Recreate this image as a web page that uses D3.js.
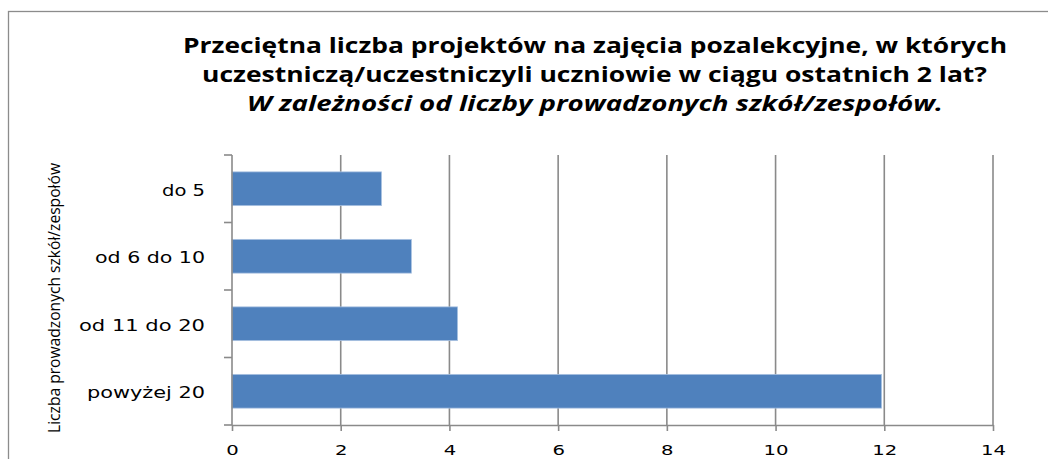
<!DOCTYPE html>
<html>
<head>
<meta charset="utf-8">
<script src="https://cdn.jsdelivr.net/npm/d3@7"></script>
<style>
  html, body { margin: 0; padding: 0; background: #fff; }
  svg { display: block; }
</style>
</head>
<body>
<svg id="chart" width="1048" height="459"></svg>
<script>
// ---- data ----
const categories = ["do 5", "od 6 do 10", "od 11 do 20", "powyżej 20"];
const values = [2.75, 3.3, 4.15, 11.95];
const xTicks = [0, 2, 4, 6, 8, 10, 12, 14];
const titleLines = [
  "Przeciętna liczba projektów na zajęcia pozalekcyjne, w których",
  "uczestniczą/uczestniczyli uczniowie w ciągu ostatnich 2 lat?",
  "W zależności od liczby prowadzonych szkół/zespołów."
];
const yAxisTitle = "Liczba prowadzonych szkół/zespołów";

// ---- layout ----
const svg = d3.select("#chart");
const plot = { left: 232, right: 993, top: 155, bottom: 425 };
const gridColor = "#8a8a8a";

// outer chart border
svg.append("rect")
  .attr("x", 8.5).attr("y", 11.5)
  .attr("width", 1100).attr("height", 500)
  .attr("fill", "none").attr("stroke", "#8c8c8c").attr("stroke-width", 1.3);

const x = d3.scaleLinear().domain([0, 14]).range([plot.left, plot.right]);
const y = d3.scaleBand().domain(categories).range([plot.top, plot.bottom])
  .paddingInner(0.5).paddingOuter(0.25);

// gridlines
svg.append("g").selectAll("line").data(xTicks.filter(d => d > 0)).join("line")
  .attr("x1", d => x(d)).attr("x2", d => x(d))
  .attr("y1", plot.top).attr("y2", plot.bottom)
  .attr("stroke", gridColor).attr("stroke-width", 1.6);

// bars
svg.append("g").selectAll("rect").data(values).join("rect")
  .attr("x", x(0))
  .attr("y", (d, i) => y(categories[i]))
  .attr("width", d => x(d) - x(0))
  .attr("height", y.bandwidth())
  .attr("fill", "#4f81bd")
  .attr("stroke", "#a9c2e0").attr("stroke-width", 0.8);

// x axis
const xAxis = d3.axisBottom(x).tickValues(xTicks).tickSize(6).tickSizeOuter(0)
  .tickFormat(d3.format("d"));
const gx = svg.append("g").attr("transform", `translate(0,${plot.bottom})`).call(xAxis);
gx.select(".domain").attr("stroke", gridColor).attr("stroke-width", 1.6);
gx.selectAll(".tick line").attr("stroke", gridColor).attr("stroke-width", 1.6);
gx.selectAll(".tick text")
  .attr("y", 0).attr("dy", 0)
  .attr("transform", "translate(0,30)")
  .attr("font-family", "DejaVu Sans").attr("font-size", 14).attr("fill", "#000")
  .attr("textLength", d => d >= 10 ? 25 : 12.5)
  .attr("lengthAdjust", "spacingAndGlyphs");

// y axis (category boundaries as ticks)
const bounds = d3.range(categories.length + 1).map(i => plot.top + i * (plot.bottom - plot.top) / categories.length);
svg.append("line")
  .attr("x1", plot.left).attr("x2", plot.left)
  .attr("y1", plot.top).attr("y2", plot.bottom)
  .attr("stroke", gridColor).attr("stroke-width", 1.6);
svg.append("g").selectAll("line").data(bounds).join("line")
  .attr("x1", plot.left - 8).attr("x2", plot.left)
  .attr("y1", d => d).attr("y2", d => d)
  .attr("stroke", gridColor).attr("stroke-width", 1.6);

const catWidths = { "do 5": 43, "od 6 do 10": 110, "od 11 do 20": 126, "powyżej 20": 118 };
svg.append("g").selectAll("text").data(categories).join("text")
  .attr("x", 205)
  .attr("y", d => y(d) + y.bandwidth() / 2 + 7)
  .attr("text-anchor", "end")
  .attr("font-family", "DejaVu Sans").attr("font-size", 16).attr("fill", "#000")
  .attr("textLength", d => catWidths[d])
  .attr("lengthAdjust", "spacingAndGlyphs")
  .text(d => d);

// y axis title
svg.append("text")
  .attr("transform", "translate(60,298) rotate(-90)")
  .attr("text-anchor", "middle")
  .attr("font-family", "Open Sans").attr("font-size", 16).attr("fill", "#000")
  .attr("textLength", 270).attr("lengthAdjust", "spacingAndGlyphs")
  .text(yAxisTitle);

// title
const titleSpec = [
  { x: 183, y: 53, w: 824, italic: false },
  { x: 202, y: 82, w: 785, italic: false },
  { x: 247, y: 111, w: 696, italic: true }
];
svg.append("g").selectAll("text").data(titleLines).join("text")
  .attr("x", (d, i) => titleSpec[i].x)
  .attr("y", (d, i) => titleSpec[i].y)
  .attr("font-family", "Open Sans").attr("font-weight", "bold")
  .attr("font-style", (d, i) => titleSpec[i].italic ? "italic" : "normal")
  .attr("font-size", 22).attr("fill", "#000")
  .attr("textLength", (d, i) => titleSpec[i].w)
  .attr("lengthAdjust", "spacingAndGlyphs")
  .text(d => d);
</script>
</body>
</html>
